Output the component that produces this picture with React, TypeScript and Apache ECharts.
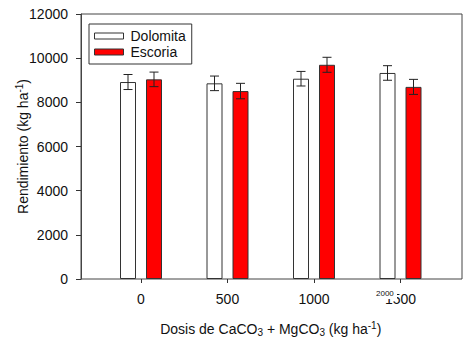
import React, { useEffect, useRef } from "react";
import * as echarts from "echarts";

const categories = ["0", "500", "1000", "1500"];
const dolomita = [8920, 8860, 9070, 9330];
const dolomitaErr = [340, 330, 330, 330];
const escoria = [9040, 8510, 9700, 8700];
const escoriaErr = [330, 350, 340, 340];
const yTicks = { min: 0, max: 12000, interval: 2000 };

const FONT = "Liberation Sans, Arial, sans-serif";

export default function App() {
  const ref = useRef<HTMLDivElement>(null);
  useEffect(() => {
    if (!ref.current) return;
    const chart = echarts.init(ref.current, null, { renderer: "svg" });

    const errSeries = (vals: number[], errs: number[], offset: number) => ({
      type: "custom",
      xAxisIndex: 0,
      yAxisIndex: 0,
      z: 5,
      data: vals.map((v, i) => [i, v - errs[i], v + errs[i]]),
      renderItem: (params: any, api: any) => {
        const i = api.value(0);
        const lo = api.coord([i, api.value(1)]);
        const hi = api.coord([i, api.value(2)]);
        const x = lo[0] + offset;
        const cap = 4.5;
        const st = { stroke: "#222", lineWidth: 1 };
        return {
          type: "group",
          children: [
            { type: "line", shape: { x1: x, y1: lo[1], x2: x, y2: hi[1] }, style: st },
            { type: "line", shape: { x1: x - cap, y1: lo[1], x2: x + cap, y2: lo[1] }, style: st },
            { type: "line", shape: { x1: x - cap, y1: hi[1], x2: x + cap, y2: hi[1] }, style: st },
          ],
        };
      },
    });

    chart.setOption({
      animation: false,
      backgroundColor: "#fff",
      textStyle: { fontFamily: FONT },
      grid: [
        { left: 97.75, top: 14, width: 346, height: 265 },
        { left: 81, top: 14, width: 381, height: 265, show: true, borderColor: "#444", borderWidth: 1, backgroundColor: "transparent" },
      ],
      legend: {
        orient: "vertical",
        left: 89,
        top: 24,
        padding: [5, 6, 5, 5],
        itemGap: 2,
        itemWidth: 29,
        itemHeight: 6,
        borderColor: "#333",
        borderWidth: 1,
        backgroundColor: "#fff",
        textStyle: { fontSize: 14, color: "#111", fontFamily: FONT, padding: [0, 0, 0, 2] },
        data: [
          { name: "Dolomita", icon: "rect", itemStyle: { color: "#fff", borderColor: "#333", borderWidth: 1 } },
          { name: "Escoria", icon: "rect", itemStyle: { color: "#ff0000", borderColor: "#333", borderWidth: 1 } },
        ],
      },
      xAxis: [
        {
          type: "category",
          gridIndex: 0,
          data: categories,
          axisLine: { show: false },
          axisTick: { show: true, alignWithLabel: true, length: 4, lineStyle: { color: "#333" } },
          axisLabel: { fontSize: 14, color: "#111", margin: 13, fontFamily: FONT },
          name: "{a|Dosis de CaCO}{s|3}{a| + MgCO}{s|3}{a| (kg ha}{p|-1}{a|)}",
          nameLocation: "middle",
          nameGap: 41,
          nameMoveOverlap: false,
          nameTextStyle: {
            rich: {
              a: { fontSize: 14, color: "#111", fontFamily: FONT },
              s: { fontSize: 10, color: "#111", fontFamily: FONT, padding: [6, 0, 0, 0] },
              p: { fontSize: 10, color: "#111", fontFamily: FONT, padding: [0, 0, 8, 0] },
            },
          },
        },
        {
          type: "value",
          gridIndex: 1,
          show: false,
        },
      ],
      yAxis: [
        {
          type: "value",
          gridIndex: 0,
          ...yTicks,
          show: false,
          splitLine: { show: false },
        },
        {
          type: "value",
          gridIndex: 1,
          ...yTicks,
          axisLine: { show: true, lineStyle: { color: "#444" } },
          axisTick: { show: true, length: 5, lineStyle: { color: "#333" } },
          axisLabel: { fontSize: 14, color: "#111", margin: 13, fontFamily: FONT, formatter: (v: number) => String(v) },
          splitLine: { show: false },
          name: "{a|Rendimiento (kg ha}{p|-1}{a|)}",
          nameLocation: "middle",
          nameGap: 49,
          nameMoveOverlap: false,
          nameTextStyle: {
            rich: {
              a: { fontSize: 14, color: "#111", fontFamily: FONT },
              p: { fontSize: 10, color: "#111", fontFamily: FONT, padding: [0, 0, 8, 0] },
            },
          },
        },
      ],
      series: [
        {
          name: "Dolomita",
          type: "bar",
          xAxisIndex: 0,
          yAxisIndex: 0,
          data: dolomita,
          barWidth: 16,
          barGap: "62.5%",
          itemStyle: { color: "#fff", borderColor: "#333", borderWidth: 1 },
        },
        {
          name: "Escoria",
          type: "bar",
          xAxisIndex: 0,
          yAxisIndex: 0,
          data: escoria,
          barWidth: 16,
          barGap: "62.5%",
          itemStyle: { color: "#ff0000", borderColor: "#333", borderWidth: 1 },
        },
        errSeries(dolomita, dolomitaErr, -13),
        errSeries(escoria, escoriaErr, 13),
      ],
      graphic: [
        {
          type: "rect",
          z: 100,
          shape: { x: 374, y: 285, width: 23, height: 14 },
          style: { fill: "#fff" },
        },
        {
          type: "text",
          z: 101,
          x: 376,
          y: 289,
          style: { text: "2000", fontSize: 8, fill: "#111", fontFamily: FONT },
        },
      ],
    });
    return () => chart.dispose();
  }, []);
  return (
    <div
      ref={ref}
      style={{ position: "absolute", left: 0, top: 0, width: 474, height: 354 }}
    />
  );
}
